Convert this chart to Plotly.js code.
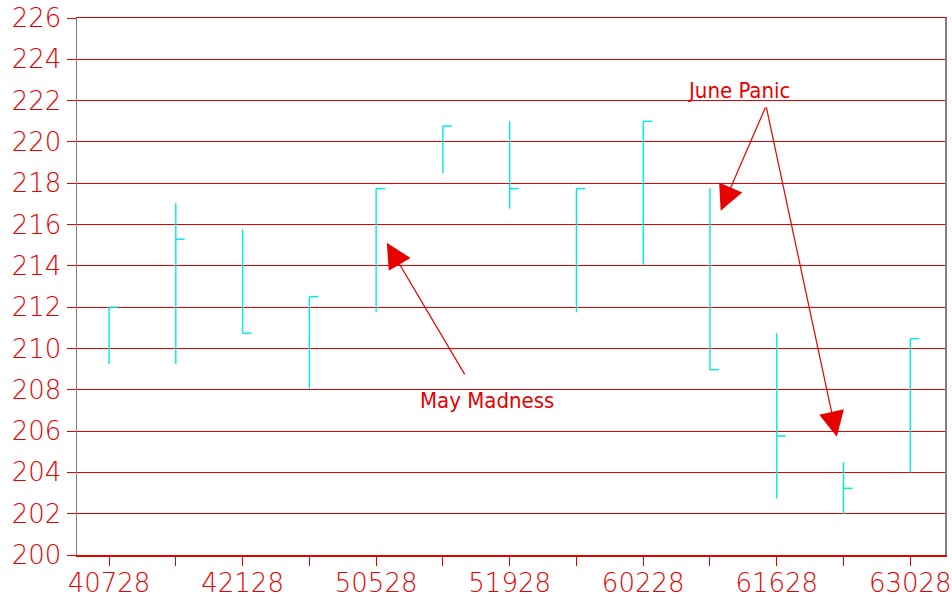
<!DOCTYPE html>
<html><head><meta charset="utf-8">
<script src="https://cdn.plot.ly/plotly-3.0.1.min.js"></script>
<style>html,body{margin:0;padding:0;background:#fff}#chart{width:952px;height:598px}</style>
</head><body><div id="chart"></div>
<script>
// data
const tickLabels = ['40728','','42128','','50528','','51928','','60228','','61628','','63028'];
const highs  = [212.00, 217.03, 215.77, 212.51, 217.74, 220.77, 221.00, 217.74, 221.00, 217.76, 210.74, 204.49, 210.47];
const lows   = [209.25, 209.25, 210.74, 208.04, 211.75, 218.48, 216.77, 211.75, 214.03, 208.97, 202.73, 201.97, 203.99];
const closes = [212.00, 215.29, 210.74, 212.51, 217.74, 220.77, 217.74, 217.74, 221.00, 208.97, 205.76, 203.23, 210.47];
const yTicks = [200,202,204,206,208,210,212,214,216,218,220,222,224,226];

// style constants
const RED = '#e60000';
const CYAN = '#00e8e8';
const TICK_W = 0.135; // close tick length in category units

const idx = tickLabels.map((_, i) => i);
const xs = [], ys = [];
idx.forEach(i => {
  xs.push(i, i, null, i, i + TICK_W, null);
  ys.push(lows[i], highs[i], null, closes[i], closes[i], null);
});

const trace = {
  type: 'scatter', mode: 'lines', x: xs, y: ys,
  line: {color: CYAN, width: 1.4}, hoverinfo: 'skip', showlegend: false
};

const tickFont = {family: 'DejaVu Sans', size: 26, color: RED, weight: 200};
const annFont = {family: 'DejaVu Sans Condensed, DejaVu Sans', size: 22, color: RED, weight: 200};

const arrow = (x, y, ax, ay) => ({
  x, y, ax, ay, xref: 'x', yref: 'y', axref: 'x', ayref: 'y', text: '',
  showarrow: true, arrowhead: 2, arrowsize: 4.2, arrowwidth: 1.2, arrowcolor: RED
});

const layout = {
  width: 952, height: 598,
  margin: {l: 77, r: 7, t: 18, b: 43, pad: 0},
  paper_bgcolor: '#fff', plot_bgcolor: '#fff',
  showlegend: false,
  xaxis: {
    range: [-0.48, 12.52], tickmode: 'array', tickvals: idx, ticktext: tickLabels,
    showgrid: false, zeroline: false, showline: true, linecolor: RED, linewidth: 1.5, mirror: true,
    ticks: 'outside', ticklen: 9, tickcolor: RED, tickwidth: 1, tickfont: tickFont,
    ticklabelstandoff: -5
  },
  yaxis: {
    range: [200, 226], tickmode: 'array', tickvals: yTicks,
    showgrid: true, gridcolor: RED, gridwidth: 1, zeroline: false,
    showline: true, linecolor: '#808080', linewidth: 1.5, mirror: true,
    ticks: 'outside', ticklen: 9, tickcolor: RED, tickwidth: 1, tickfont: tickFont
  },
  annotations: [
    {x: 9.42, y: 222.47, xref: 'x', yref: 'y', text: 'June Panic', showarrow: false, font: annFont},
    {x: 5.66, y: 207.46, xref: 'x', yref: 'y', text: 'May Madness', showarrow: false, font: annFont},
    arrow(9.16, 216.67, 9.84, 221.74),
    arrow(10.90, 205.73, 9.84, 221.74),
    arrow(4.16, 215.12, 5.34, 208.67)
  ]
};

Plotly.newPlot('chart', [trace], layout, {staticPlot: true, displayModeBar: false});
</script></body></html>
